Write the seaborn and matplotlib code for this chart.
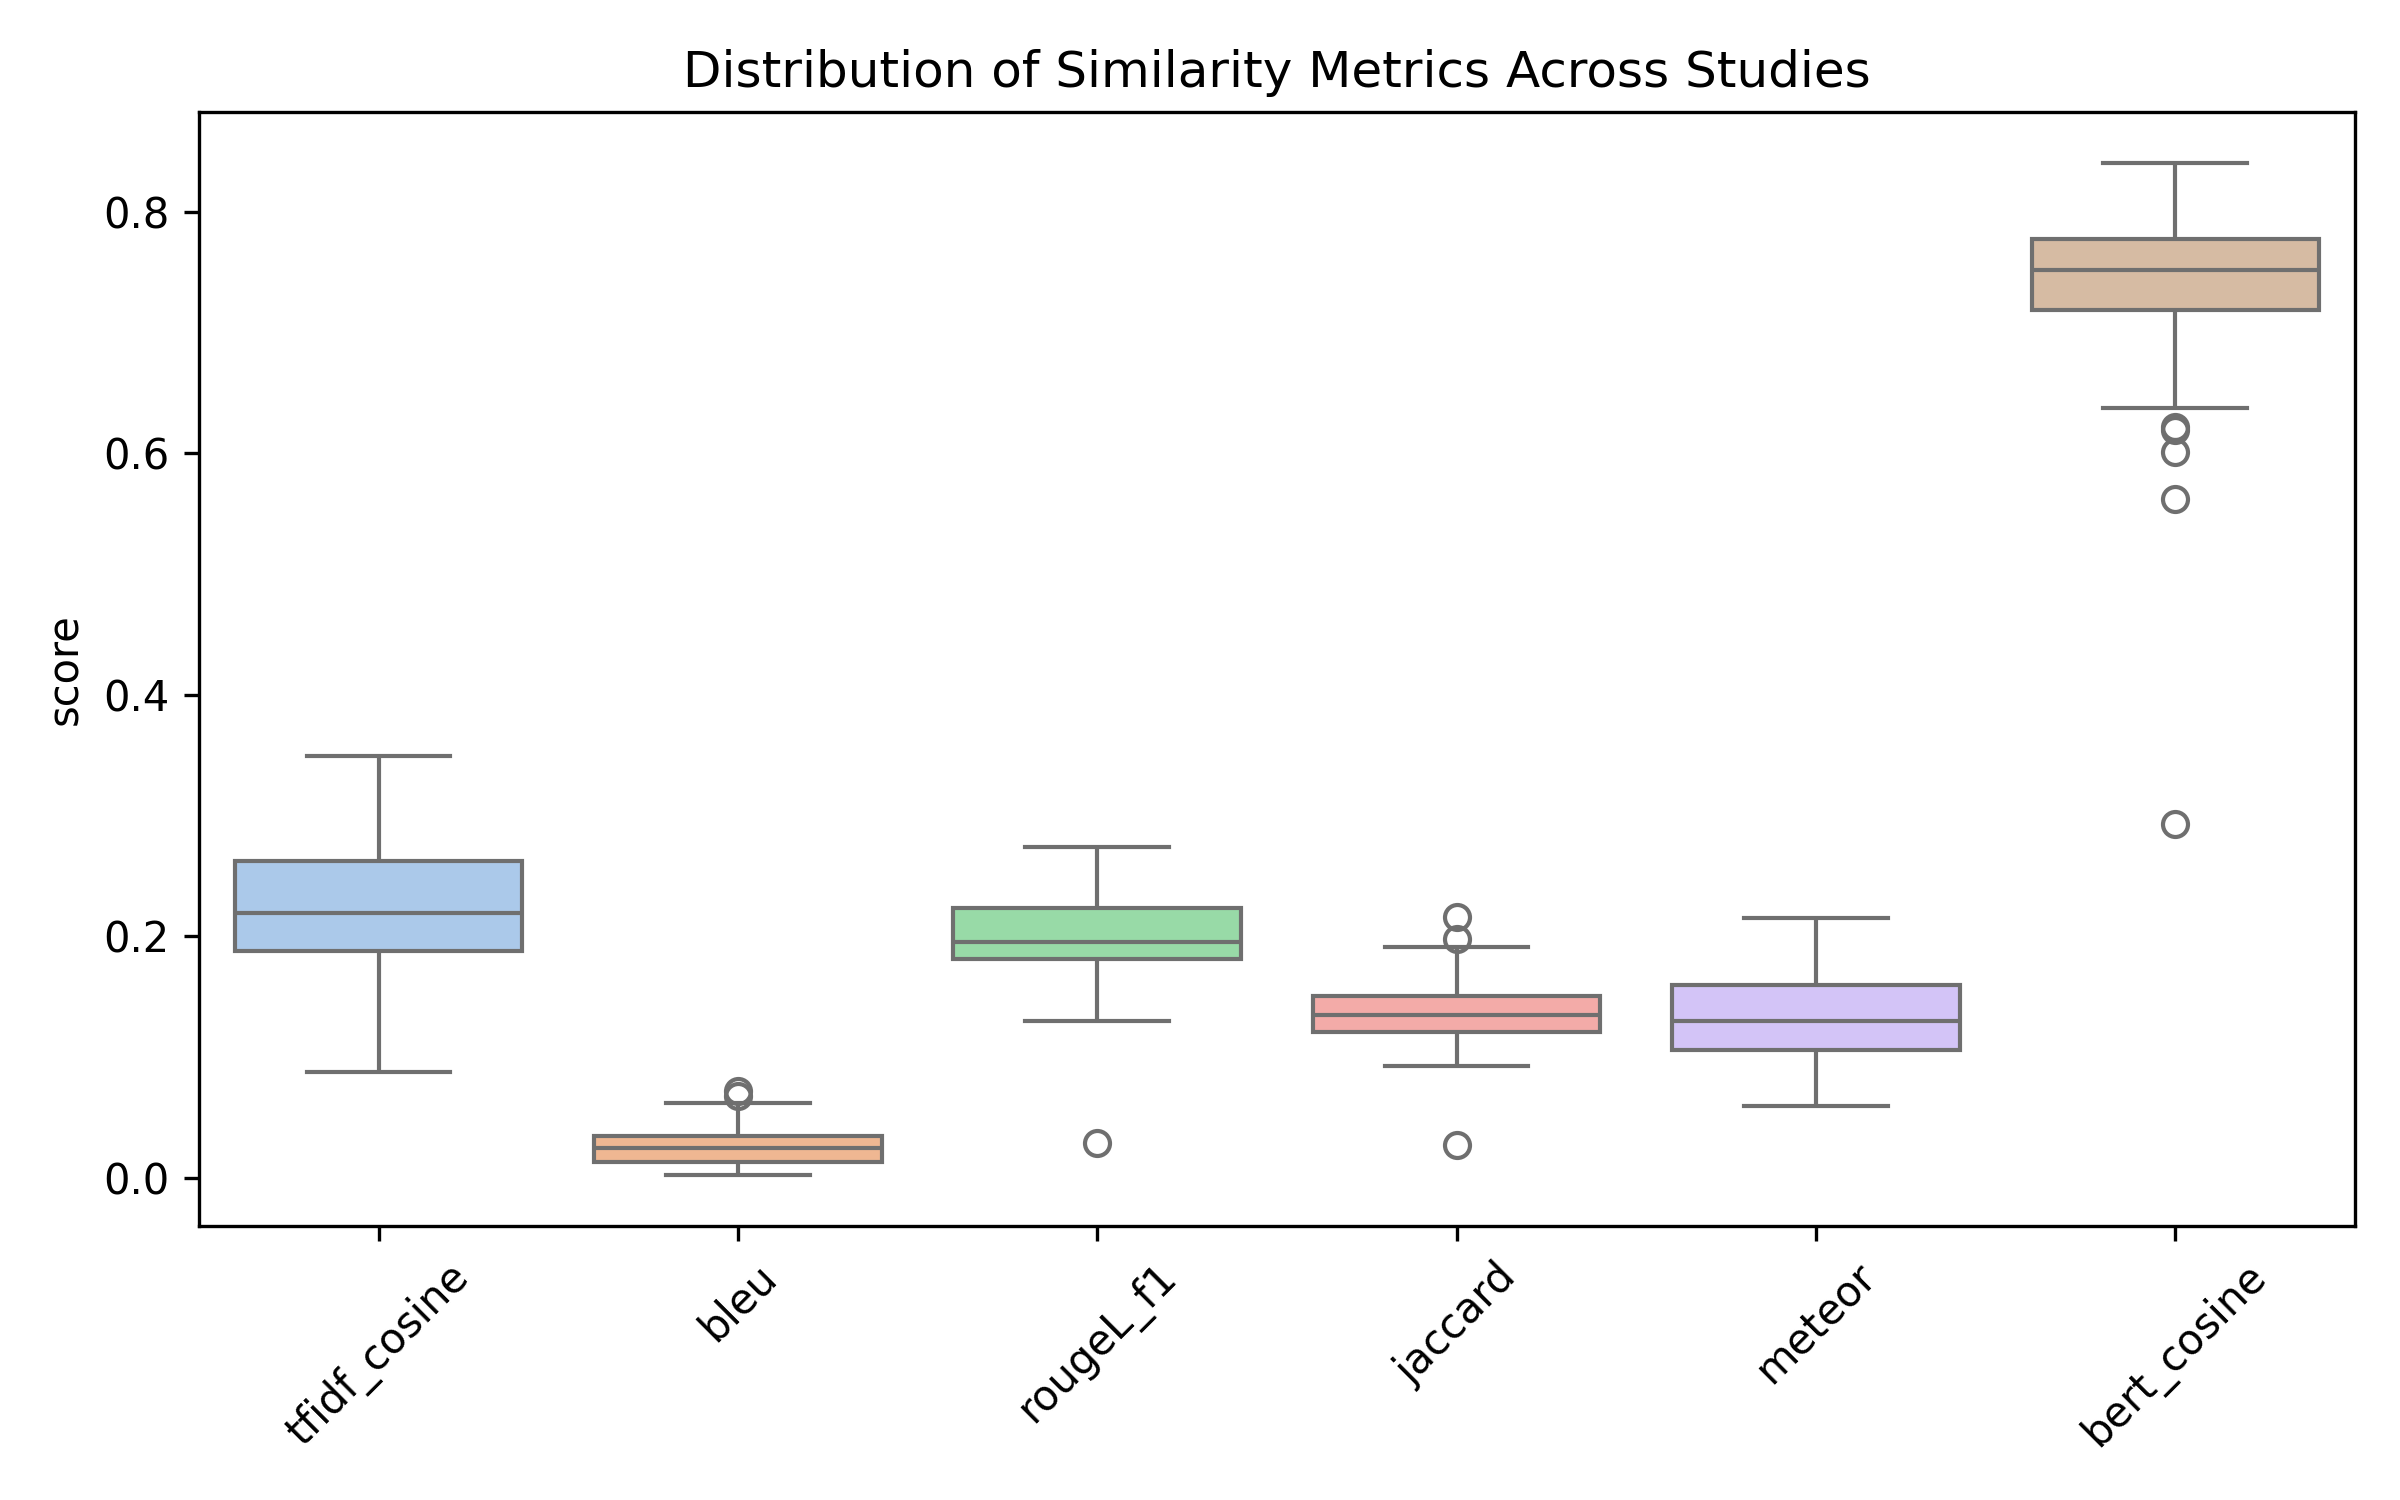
import pandas as pd
import matplotlib
matplotlib.use("Agg")
import matplotlib.pyplot as plt
import seaborn as sns

# --- scores per study ---
METRICS = ['tfidf_cosine', 'bleu', 'rougeL_f1', 'jaccard', 'meteor', 'bert_cosine']

tfidf_cosine = [0.088, 0.112, 0.139, 0.158, 0.171, 0.181, 0.188, 0.193, 0.199, 0.204, 0.209, 0.214, 0.219,
                0.224, 0.229, 0.236, 0.243, 0.251, 0.262, 0.271, 0.282, 0.296, 0.311, 0.327, 0.349]
bleu = [0.002, 0.005, 0.008, 0.010, 0.011, 0.012, 0.0135, 0.016, 0.018, 0.020, 0.022, 0.024, 0.025,
        0.027, 0.028, 0.029, 0.031, 0.033, 0.0348, 0.040, 0.046, 0.054, 0.0624, 0.0675, 0.0718]
rougeL_f1 = [0.0287, 0.1295, 0.148, 0.160, 0.169, 0.176, 0.1816, 0.184, 0.186, 0.188, 0.190, 0.193, 0.195,
             0.198, 0.202, 0.206, 0.211, 0.217, 0.2233, 0.229, 0.236, 0.244, 0.253, 0.263, 0.2738]
jaccard = [0.0271, 0.0928, 0.103, 0.110, 0.115, 0.118, 0.1212, 0.124, 0.127, 0.129, 0.131, 0.133, 0.135,
           0.137, 0.139, 0.142, 0.145, 0.148, 0.151, 0.158, 0.166, 0.176, 0.1913, 0.1977, 0.216]
meteor = [0.0596, 0.072, 0.081, 0.089, 0.095, 0.101, 0.106, 0.110, 0.114, 0.118, 0.122, 0.126, 0.130,
          0.135, 0.139, 0.144, 0.149, 0.154, 0.160, 0.168, 0.176, 0.185, 0.194, 0.204, 0.2153]
bert_cosine = [0.293, 0.562, 0.601, 0.619, 0.622, 0.6376, 0.7185, 0.724, 0.729, 0.735, 0.741, 0.746, 0.7517,
               0.755, 0.759, 0.763, 0.767, 0.772, 0.777, 0.786, 0.795, 0.805, 0.815, 0.827, 0.8405]

df = pd.DataFrame({
    'tfidf_cosine': tfidf_cosine,
    'bleu': bleu,
    'rougeL_f1': rougeL_f1,
    'jaccard': jaccard,
    'meteor': meteor,
    'bert_cosine': bert_cosine,
})
long_df = df.melt(value_vars=METRICS, var_name='metric', value_name='score')

plt.figure(figsize=(8, 5))
ax = sns.boxplot(data=long_df, x='metric', y='score', hue='metric', palette='pastel', legend=False)
ax.set_title("Distribution of Similarity Metrics Across Studies")
ax.set_xlabel("")
plt.xticks(rotation=45)
plt.tight_layout()
plt.savefig("out.png", dpi=300)
plt.close()
